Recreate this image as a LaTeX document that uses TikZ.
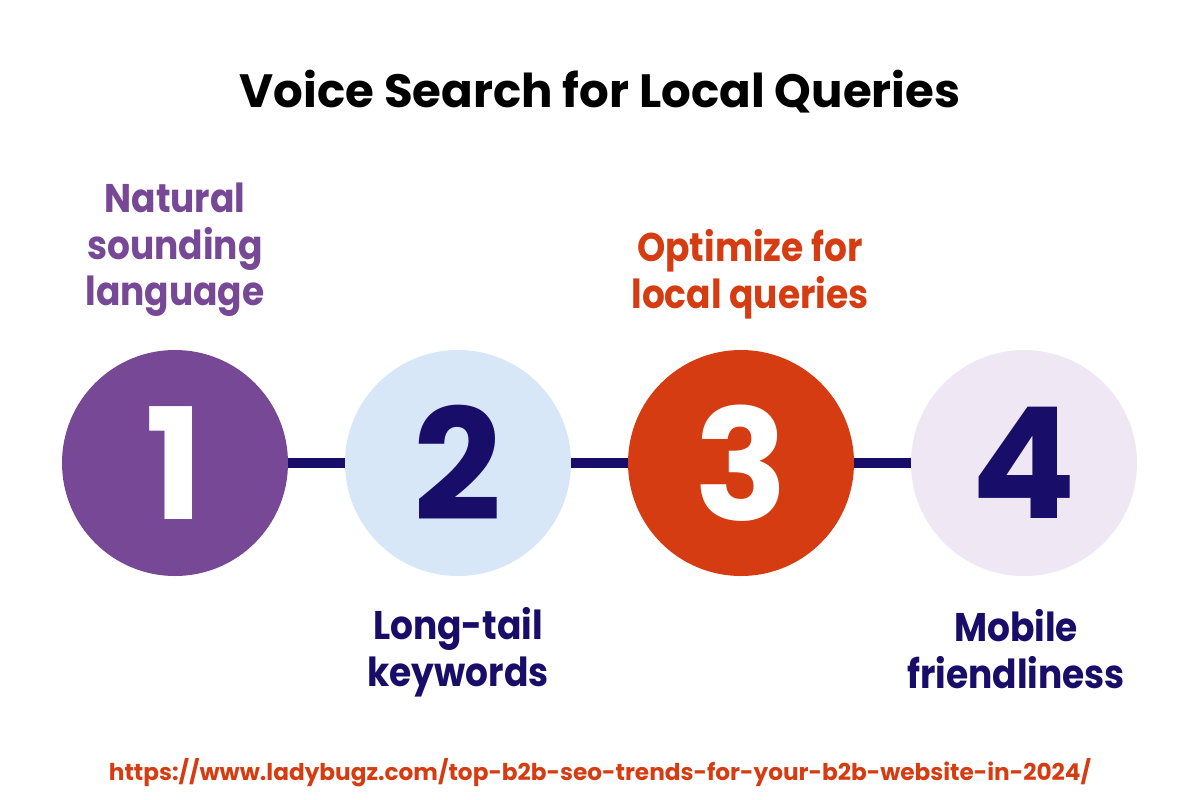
\documentclass[tikz,border=0pt]{standalone}
\usepackage{fontspec}
\setmainfont{Poppins}
\newfontfamily\narrowfont[FakeStretch=0.9]{Poppins}
\definecolor{cpurple}{HTML}{764896}
\definecolor{cnavy}{HTML}{180D68}
\definecolor{corange}{HTML}{D63C12}
\definecolor{cblue}{HTML}{D8E7F8}
\definecolor{clav}{HTML}{EFE8F4}
\tikzset{
  stepcircle/.style={circle, minimum size=169.5pt, inner sep=0pt, font=\fontsize{116}{116}\selectfont\bfseries},
  link/.style={draw=cnavy, line width=7.5pt},
  lbl/.style={align=center, font=\narrowfont\fontsize{30}{35}\selectfont\bfseries},
}
\begin{document}
\begin{tikzpicture}[x=0.75pt,y=-0.75pt]
\useasboundingbox[fill=white] (0,0) rectangle (1200,800);
\node[font=\fontsize{35}{40}\selectfont\bfseries] (title) at (600,92) {Voice Search for Local Queries};
\node[stepcircle, fill=cpurple, text=white] (c1) at (175,463) {1};
\node[stepcircle, fill=cblue, text=cnavy] (c2) at (458,463) {2};
\node[stepcircle, fill=corange, text=white] (c3) at (741,463) {3};
\node[stepcircle, fill=clav, text=cnavy] (c4) at (1024,463) {4};
\draw[link] (c1.east) -- (c2.west);
\draw[link] (c2.east) -- (c3.west);
\draw[link] (c3.east) -- (c4.west);
\node[lbl, text=cpurple] (l1) at (175,250) {Natural\\sounding\\language};
\node[lbl, text=cnavy] (l2) at (458,652) {Long-tail\\keywords};
\node[lbl, text=corange] (l3) at (750,274) {Optimize for\\local queries};
\node[lbl, text=cnavy] (l4) at (1016,649) {Mobile\\friendliness};
\node[text=corange, font=\fontsize{17.4}{20}\selectfont\bfseries] (url) at (600,773) {https://www.ladybugz.com/top-b2b-seo-trends-for-your-b2b-website-in-2024/};
\end{tikzpicture}
\end{document}
